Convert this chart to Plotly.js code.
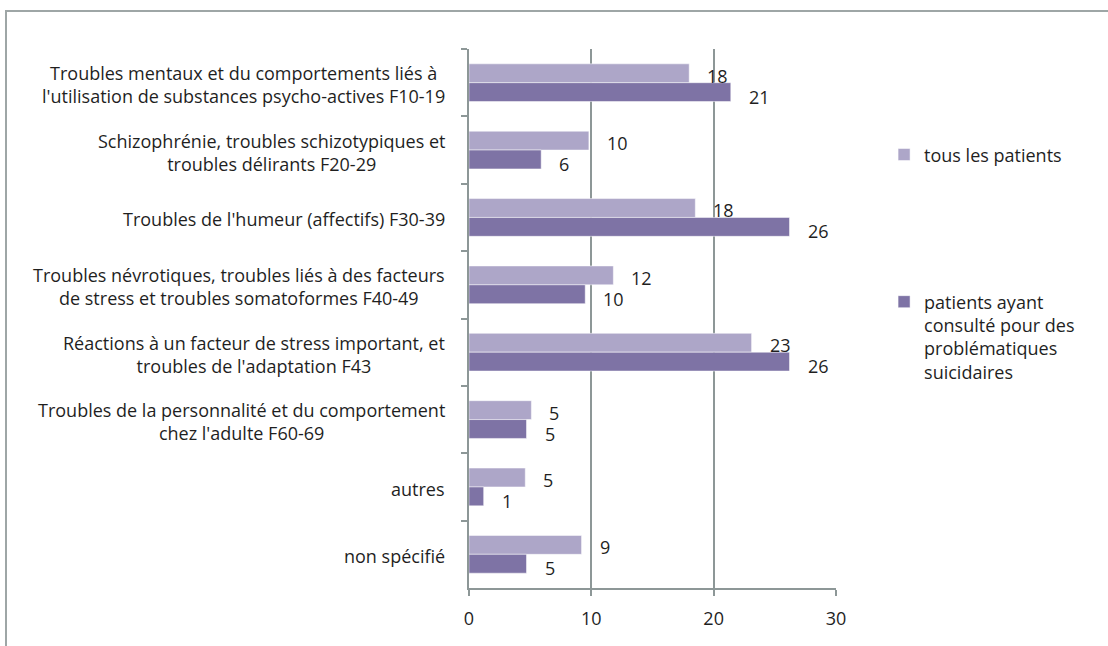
<!DOCTYPE html>
<html>
<head>
<meta charset="utf-8">
<script src="https://cdn.plot.ly/plotly-3.0.1.min.js"></script>
<style>
  html, body { margin: 0; padding: 0; overflow: hidden; background: #ffffff; }
  #chart { width: 1108px; height: 646px; }
  #frame { position: absolute; left: 5px; top: 10px; width: 1300px; height: 900px;
           border-left: 2px solid #9ea6a6; border-top: 2px solid #9ea6a6; pointer-events: none; }
</style>
</head>
<body>
<div id="chart"></div>
<div id="frame"></div>
<script>
// ---- data ----
const categories = [
  "Troubles mentaux et du comportements liés à<br>l'utilisation de substances psycho-actives F10-19",
  "Schizophrénie, troubles schizotypiques et<br>troubles délirants F20-29",
  "Troubles de l'humeur (affectifs) F30-39",
  "Troubles névrotiques, troubles liés à des facteurs<br>de stress et troubles somatoformes F40-49",
  "Réactions à un facteur de stress important, et<br>troubles de l'adaptation F43",
  "Troubles de la personnalité et du comportement<br>chez l'adulte F60-69",
  "autres",
  "non spécifié"
];
const seriesNames = [
  "tous les patients",
  "patients ayant<br>consulté pour des<br>problématiques<br>suicidaires"
];
const tousValues     = [18.0, 9.8, 18.5, 11.8, 23.1, 5.1, 4.6, 9.2];
const suicideValues  = [21.4, 5.9, 26.2, 9.5, 26.2, 4.7, 1.2, 4.7];
const tousLabels     = ["18", "10", "18", "12", "23", "5", "5", "9"];
const suicideLabels  = ["21", "6", "26", "10", "26", "5", "1", "5"];
const xTicks = [0, 10, 20, 30];

// ---- style ----
const FONT = "Open Sans, sans-serif";
const FS = 18;
const TXT = "#1f1f1f";
const GRID = "#8d9797";
const LIGHT = "#ada6c8";
const DARK = "#7e73a5";

const traces = [
  { type: "bar", orientation: "h", name: seriesNames[0], y: categories, x: tousValues,
    marker: { color: LIGHT, line: { color: "#ffffff", width: 0.5 } }, legend: "legend", hoverinfo: "x+y" },
  { type: "bar", orientation: "h", name: seriesNames[1], y: categories, x: suicideValues,
    marker: { color: DARK, line: { color: "#ffffff", width: 0.5 } }, legend: "legend2", hoverinfo: "x+y" }
];

const annotations = [];
categories.forEach((c, i) => {
  annotations.push({ xref: "paper", yref: "y", x: 0, y: c, xanchor: "right", yanchor: "middle",
    xshift: -23, yshift: -2, text: c, align: "center", showarrow: false, borderpad: 0,
    font: { family: FONT, size: FS, color: TXT } });
  annotations.push({ xref: "x", yref: "y", x: tousValues[i], y: c, xanchor: "left", yanchor: "middle",
    xshift: 17, yshift: 7, text: tousLabels[i], showarrow: false, borderpad: 0,
    font: { family: FONT, size: FS, color: TXT } });
  annotations.push({ xref: "x", yref: "y", x: suicideValues[i], y: c, xanchor: "left", yanchor: "middle",
    xshift: 17, yshift: -14, text: suicideLabels[i], showarrow: false, borderpad: 0,
    font: { family: FONT, size: FS, color: TXT } });
});

const layout = {
  width: 1108, height: 646,
  margin: { l: 469, r: 272, t: 49, b: 58 },
  paper_bgcolor: "rgba(0,0,0,0)", plot_bgcolor: "rgba(0,0,0,0)",
  barmode: "group", bargap: 0.44, bargroupgap: 0,
  font: { family: FONT, size: FS, color: TXT },
  xaxis: {
    range: [0, 30], tickvals: xTicks, ticktext: xTicks.map(String),
    showgrid: true, gridcolor: GRID, gridwidth: 2, zeroline: false,
    showline: true, linecolor: GRID, linewidth: 2,
    ticks: "outside", ticklen: 6, tickcolor: GRID, tickwidth: 2, ticklabelstandoff: 7,
    tickfont: { family: FONT, size: FS, color: TXT }, fixedrange: true
  },
  yaxis: {
    type: "category", autorange: "reversed", tickson: "boundaries",
    showticklabels: false, showgrid: false, zeroline: false,
    showline: true, linecolor: GRID, linewidth: 2,
    ticks: "outside", ticklen: 6, tickcolor: GRID, tickwidth: 2, fixedrange: true
  },
  showlegend: true,
  legend: { x: 1.131, y: 0.838, xanchor: "left", yanchor: "top", bgcolor: "rgba(0,0,0,0)",
    itemwidth: 30, font: { family: FONT, size: FS, color: TXT } },
  legend2: { x: 1.131, y: 0.565, xanchor: "left", yanchor: "top", bgcolor: "rgba(0,0,0,0)",
    itemwidth: 30, valign: "top", font: { family: FONT, size: FS, color: TXT } },
  annotations: annotations
};

Plotly.newPlot("chart", traces, layout, { displayModeBar: false, staticPlot: true });
</script>
</body>
</html>
